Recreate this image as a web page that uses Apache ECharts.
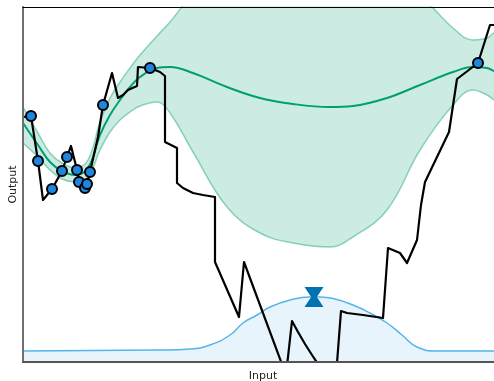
<!DOCTYPE html>
<html><head><meta charset="utf-8">
<script src="https://cdn.jsdelivr.net/npm/echarts@6/dist/echarts.min.js"></script>
<style>html,body{margin:0;padding:0;background:#fff;overflow:hidden}#c{width:494px;height:381px}</style>
</head><body><div id="c"></div>
<script>
// Objective function (true function), x / y
const objX = [0,8,15,20,29,39,44,48,54,56,62,64,67,75,80,89,95,100,105,114,115,127,137,142,142,154,154,160,170,180,192,192,216,221,263,269,275,282,289,297,305,313,318,324,340,360,365,377,384,394,398,402,426,434,455,467,471,480];
const objY = [245,246,201,162,173,191,205,216,192,180,170,177,190,225,257,289,264,267,272,276,295,294,290,286,220,214,179,174,169,167,165,100,45,100,-13,41,30,18,7,-5,-13,-14,51,49,47,44,114,109,99,122,157,180,230,283,299,337,337,337];
// Observations
const obsX = [8,15,29,39,44,54,56,62,64,67,80,127,455];
const obsY = [246,201,173,191,205,192,180,174,178,190,257,294,299];
// Surrogate model: mean and confidence band
const gpX     = [0,15,27,39,52,65,77,87,97,107,117,134,147,170,204,237,270,307,330,364,397,430,450,464,471,480];
const gpMean  = [239,217,200,191,187,194,227,247,262,275,285,294,295,289,275,264,258,255,256,264,277,290,295,294,291,286];
const gpUpper = [255,229,209,199,194,202,240,264,280,294,307,326,340,368,395,399,397,395,387,376,365,334,322,324,329,332];
const gpLower = [219,205,192,183,180,185,212,230,242,250,256,260,249,210,155,129,119,115,125,152,212,257,272,267,262,256];
// Acquisition function
const acqX = [0,137,167,187,207,220,234,247,267,287,297,312,330,347,364,379,394,414,480];
const acqY = [11,12,13,17,27,39,47,55,62,65,65,63,57,49,39,27,15,11,11];
// Next query point (max of acquisition)
const nextX = [291];
const nextY = [65];

const zip = (a,b) => a.map((v,i)=>[v,b[i]]);
const chart = echarts.init(document.getElementById('c'), null, {renderer:'canvas'});
const GREEN = '#009E73';
const EDGE = 'rgba(0,158,115,0.42)';
chart.setOption({
  animation:false,
  grid:{left:23,right:0,top:7,bottom:19,containLabel:false,outerBoundsMode:'none'},
  xAxis:[{
    type:'value',min:0,max:471,z:10,
    name:'Input',nameLocation:'middle',nameGap:9,
    nameTextStyle:{fontFamily:'DejaVu Sans',fontSize:11,color:'#222',padding:[0,0,0,9]},
    axisLine:{show:true,onZero:false,lineStyle:{color:'#555',width:2}},
    axisTick:{show:false},axisLabel:{show:false},splitLine:{show:false}
  },{
    type:'value',min:0,max:471,position:'top',z:10,
    axisLine:{show:true,onZero:false,lineStyle:{color:'#000',width:1}},
    axisTick:{show:false},axisLabel:{show:false},splitLine:{show:false}
  }],
  yAxis:{
    type:'value',min:0,max:355,z:10,
    name:'Output',nameLocation:'middle',nameGap:4,nameRotate:90,
    nameTextStyle:{fontFamily:'DejaVu Sans',fontSize:11,color:'#222'},
    axisLine:{show:true,onZero:false,lineStyle:{color:'#707070',width:2}},
    axisTick:{show:false},axisLabel:{show:false},splitLine:{show:false}
  },
  series:[
    {type:'line',data:zip(gpX,gpUpper),smooth:0.4,showSymbol:false,z:1,
     lineStyle:{color:EDGE,width:1.5},areaStyle:{color:'rgba(0,158,115,0.2)',origin:'start',opacity:1}},
    {type:'line',data:zip(gpX,gpLower),smooth:0.4,showSymbol:false,z:1.5,
     lineStyle:{color:EDGE,width:1.5},areaStyle:{color:'#ffffff',origin:'start',opacity:1}},
    {type:'line',data:zip(acqX,acqY),smooth:0.5,showSymbol:false,z:2,
     lineStyle:{color:'#56B4E9',width:1.5},areaStyle:{color:'rgba(86,180,233,0.2)',origin:'start'}},
    {type:'line',data:zip(gpX,gpMean),smooth:0.4,showSymbol:false,z:3,
     lineStyle:{color:GREEN,width:2}},
    {type:'line',data:zip(objX,objY),smooth:false,showSymbol:false,z:4,
     lineStyle:{color:'#000',width:2.2,join:'round'}},
    {type:'scatter',data:zip(obsX,obsY),symbol:'circle',symbolSize:10,z:5,
     itemStyle:{color:'#1f86e0',borderColor:'#000',borderWidth:2,opacity:1}},
    {type:'scatter',data:zip(nextX,nextY),symbol:'path://M0,0 L20,0 L13,10 L20,20 L0,20 L7,10 Z',symbolSize:[19,20],z:6,
     itemStyle:{color:'#0072B2',opacity:1}}
  ]
});
</script></body></html>
